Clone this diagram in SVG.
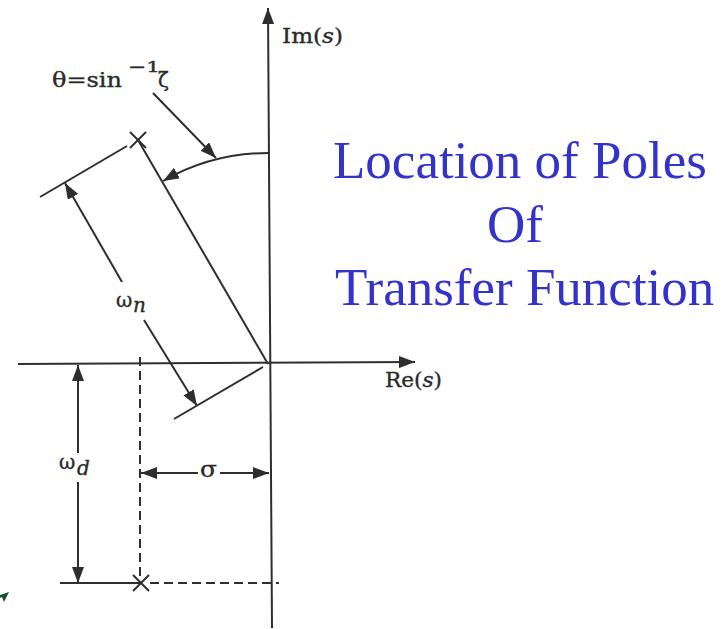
<svg xmlns="http://www.w3.org/2000/svg" width="724" height="629" viewBox="0 0 724 629">
<style>
.ln{stroke:#2e2e2e;stroke-width:2;fill:none}
.ds{stroke:#2e2e2e;stroke-width:2;fill:none;stroke-dasharray:9,5}
.ar{marker-end:url(#ah)}
.m{font-family:"DejaVu Serif","Liberation Serif",serif;fill:#2a2a2a;stroke:#2a2a2a;stroke-width:0.35}
.t{font-family:"Liberation Serif","Times New Roman",serif;font-size:53px;fill:#3333cc}
</style>
<defs>
<marker id="ah" markerUnits="userSpaceOnUse" markerWidth="16" markerHeight="12" refX="16" refY="6" orient="auto">
<path d="M0,0 L16,6 L0,12 z" fill="#2e2e2e"/>
</marker>
</defs>
<rect width="724" height="629" fill="#ffffff"/>
<g id="connectors">
<line id="im-axis" class="ln ar" x1="272" y1="628" x2="268" y2="8"/>
<line id="re-axis" class="ln ar" x1="18" y1="364" x2="415" y2="362"/>
<line id="pole-line" class="ln" x1="138" y1="140" x2="268" y2="364"/>
<line class="ln" x1="40" y1="197" x2="127" y2="146"/>
<line class="ln" x1="174" y1="419" x2="263" y2="367"/>
<line class="ln ar" x1="122" y1="282" x2="65" y2="183"/>
<line class="ln ar" x1="144" y1="320" x2="197" y2="406"/>
<path class="ln ar" d="M268,153 A211,211 0 0 0 163,181"/>
<line class="ln ar" x1="153" y1="93" x2="216" y2="158"/>
<line class="ln ar" x1="78" y1="453" x2="78" y2="365"/>
<line class="ln ar" x1="78" y1="482" x2="78" y2="583"/>
<line class="ln ar" x1="198" y1="473" x2="141" y2="473"/>
<line class="ln ar" x1="220" y1="473" x2="269" y2="473"/>
<line class="ds" x1="140" y1="357" x2="140" y2="576"/>
<line class="ln" x1="60" y1="583" x2="141" y2="583"/>
<line class="ds" x1="150" y1="583" x2="279" y2="583"/>
</g>
<g id="pole-upper">
<line class="ln" x1="130" y1="132" x2="146" y2="148"/>
<line class="ln" x1="146" y1="132" x2="130" y2="148"/>
</g>
<g id="pole-lower">
<line class="ln" x1="133" y1="575" x2="149" y2="591"/>
<line class="ln" x1="149" y1="575" x2="133" y2="591"/>
</g>
<g id="labels">
<text class="m" x="282" y="43" font-size="21" textLength="61" lengthAdjust="spacingAndGlyphs">Im(<tspan font-style="italic">s</tspan>)</text>
<text class="m" x="385" y="387" font-size="21" textLength="57" lengthAdjust="spacingAndGlyphs">Re(<tspan font-style="italic">s</tspan>)</text>
<text class="m" x="52" y="87" font-size="20" textLength="70" lengthAdjust="spacingAndGlyphs">θ=sin</text>
<text class="m" x="128" y="72" font-size="15" textLength="32" lengthAdjust="spacingAndGlyphs">−1</text>
<text class="m" x="158" y="87" font-size="20">ζ</text>
<text class="m" x="116" y="307" font-size="20">ω</text>
<text class="m" x="133" y="312" font-size="20" font-style="italic">n</text>
<text class="m" x="59" y="469" font-size="20">ω</text>
<text class="m" x="77" y="475" font-size="20" font-style="italic">d</text>
<text class="m" x="200" y="477" font-size="22" textLength="17" lengthAdjust="spacingAndGlyphs">σ</text>
</g>
<g id="title">
<text class="t" x="333" y="178">Location of Poles</text>
<text class="t" x="487" y="242">Of</text>
<text class="t" x="335" y="305">Transfer Function</text>
</g>
<polygon points="0,595 9,592 4,602 2,597 0,598" fill="#1d4d33"/>
</svg>
